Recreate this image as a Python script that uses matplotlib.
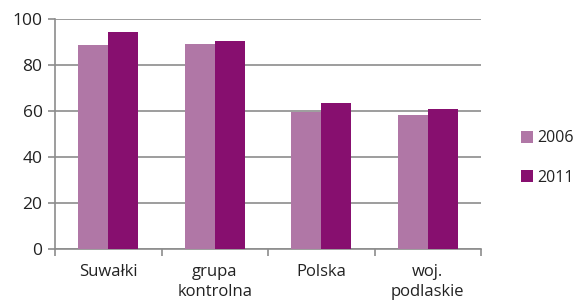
import matplotlib
matplotlib.use("Agg")
import matplotlib.pyplot as plt
import numpy as np

categories = ["Suwałki", "grupa\nkontrolna", "Polska", "woj.\npodlaskie"]
series_names = ["2006", "2011"]
values_2006 = [88.7, 89.3, 59.7, 58.3]
values_2011 = [94.2, 90.6, 63.3, 60.9]
colors = ["#B077A6", "#870F6F"]

plt.rcParams['font.family'] = ['Open Sans', 'DejaVu Sans']
fig = plt.figure(figsize=(5.77, 3.07), dpi=100)
ax = fig.add_axes([55/577, (307-249)/307, (481-55)/577, (249-19)/307])

x = np.arange(len(categories))
w = 0.28
ax.bar(x - w/2, values_2006, w, color=colors[0], label=series_names[0], zorder=3)
ax.bar(x + w/2, values_2011, w, color=colors[1], label=series_names[1], zorder=3)

ax.set_xlim(-0.5, len(categories) - 0.5)
ax.set_ylim(0, 100)
ax.set_yticks(range(0, 101, 20))
ax.yaxis.grid(True, color="#8C8C8C", linewidth=1.2, zorder=0)
for s in ["top", "right"]:
    ax.spines[s].set_visible(False)
ax.spines["left"].set_color("#8C8C8C")
ax.spines["bottom"].set_color("#8C8C8C")
ax.spines["left"].set_linewidth(1.2)
ax.spines["bottom"].set_linewidth(1.2)

ax.set_xticks(x)
ax.set_xticklabels(categories, fontsize=12, color="#222222", linespacing=1.35)
ax.tick_params(axis="x", length=0, pad=11)
ax.set_xticks(np.arange(len(categories) + 1) - 0.5, minor=True)
ax.tick_params(axis="x", which="minor", length=5, color="#8C8C8C", width=1.2)
ax.tick_params(axis="y", length=5, color="#8C8C8C", width=1.2, labelsize=12.5, labelcolor="#222222", pad=4)

fig.legend(*ax.get_legend_handles_labels(), loc="center left",
           bbox_to_anchor=(521/577, (307-158)/307), bbox_transform=fig.transFigure,
           frameon=False, fontsize=11.5, borderaxespad=0, borderpad=0,
           handlelength=0.75, handleheight=0.75, handletextpad=0.25, labelspacing=1.45,
           labelcolor="#222222")

fig.savefig("out.png", dpi=100)
